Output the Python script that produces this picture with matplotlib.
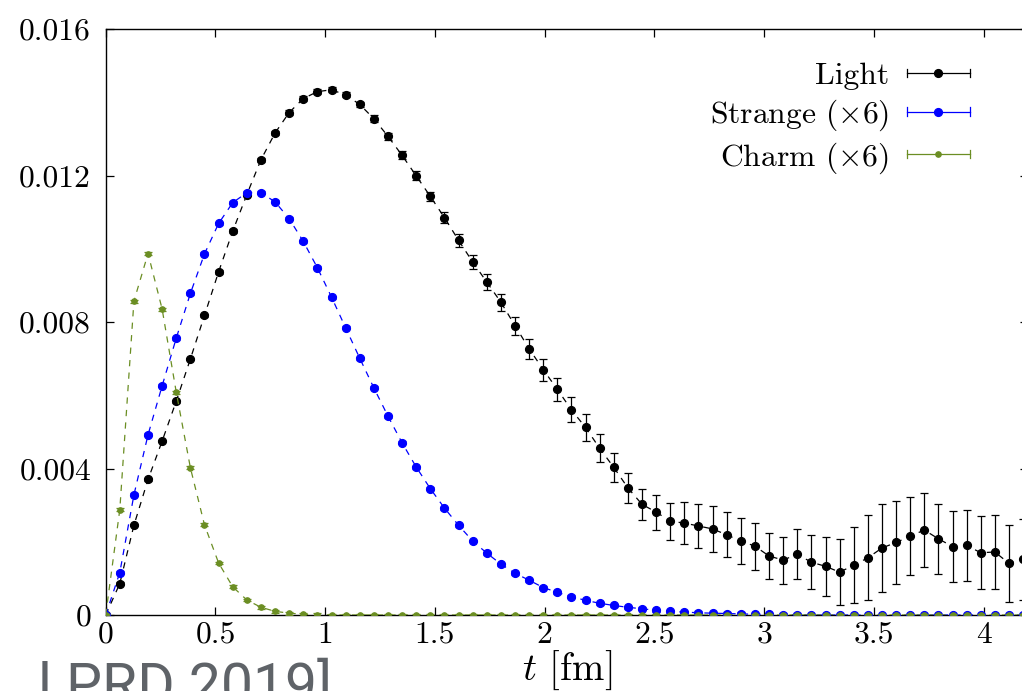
import numpy as np
import matplotlib
matplotlib.use('Agg')
import matplotlib.pyplot as plt
from matplotlib.lines import Line2D
from matplotlib.legend_handler import HandlerBase

plt.rcParams['font.family'] = ['cmr10']
plt.rcParams['mathtext.fontset'] = 'cm'
plt.rcParams['axes.unicode_minus'] = False
plt.rcParams['axes.formatter.use_mathtext'] = True

# ---------------- data ----------------
a_fm = 0.0643  # lattice spacing in fm (time step between points)

light = [0.0, 0.00086, 0.00245, 0.00370, 0.00475, 0.00584, 0.00699, 0.00818, 0.00937, 0.01048,
         0.01148, 0.01243, 0.01316, 0.01372, 0.01410, 0.01429, 0.01434, 0.01420, 0.01394, 0.01355,
         0.01307, 0.01255, 0.01199, 0.01143, 0.01085, 0.01023, 0.00964, 0.00909, 0.00854, 0.00790,
         0.00727, 0.00670, 0.00616, 0.00560, 0.00512, 0.00455, 0.00403, 0.00347, 0.00302, 0.00281,
         0.00256, 0.00251, 0.00243, 0.00235, 0.00219, 0.00202, 0.00188, 0.00161, 0.00150, 0.00166,
         0.00144, 0.00133, 0.00117, 0.00136, 0.00156, 0.00183, 0.00198, 0.00215, 0.00232, 0.00208,
         0.00187, 0.00190, 0.00170, 0.00172, 0.00141, 0.00152]
light_err = [0.00002, 0.00003, 0.00003, 0.00003, 0.00004, 0.00004, 0.00004, 0.00004, 0.00005, 0.00005,
             0.00005, 0.00005, 0.00006, 0.00006, 0.00006, 0.00007, 0.00007, 0.00007, 0.00008, 0.00009,
             0.00010, 0.00011, 0.00012, 0.00013, 0.00015, 0.00017, 0.00018, 0.00021, 0.00023, 0.00025,
             0.00027, 0.00030, 0.00032, 0.00034, 0.00036, 0.00038, 0.00040, 0.00041, 0.00043, 0.00048,
             0.00051, 0.00057, 0.00060, 0.00063, 0.00062, 0.00063, 0.00064, 0.00062, 0.00064, 0.00069,
             0.00074, 0.00080, 0.00091, 0.00104, 0.00116, 0.00119, 0.00113, 0.00107, 0.00101, 0.00096,
             0.00098, 0.00098, 0.00099, 0.00102, 0.00106, 0.00111]

strange_x6 = [0.0, 0.00116, 0.00328, 0.00492, 0.00626, 0.00756, 0.00878, 0.00986, 0.01069, 0.01126,
              0.01153, 0.01153, 0.01128, 0.01082, 0.01020, 0.00948, 0.00868, 0.00784, 0.00701, 0.00620,
              0.00543, 0.00470, 0.00404, 0.00345, 0.00292, 0.00245, 0.00202, 0.00169, 0.00139, 0.00114,
              0.00095, 0.00075, 0.00062, 0.00050, 0.00040, 0.00032, 0.00026, 0.00021, 0.00017, 0.00013,
              0.00010, 0.00008, 0.00006, 0.00005, 0.00004, 0.00003, 0.00002, 0.00002, 0.00001, 0.00001,
              0.0, 0.0, 0.0, 0.0, 0.0, 0.0, 0.0, 0.0, 0.0, 0.0,
              0.0, 0.0, 0.0, 0.0, 0.0, 0.0]
strange_err = 0.00004

charm_x6 = [0.0, 0.00288, 0.00857, 0.00987, 0.00835, 0.00608, 0.00402, 0.00246, 0.00142, 0.00077,
            0.00041, 0.00021, 0.00010, 0.00005, 0.00002, 0.00001, 0.0, 0.0, 0.0, 0.0,
            0.0, 0.0, 0.0, 0.0, 0.0, 0.0, 0.0, 0.0, 0.0, 0.0,
            0.0, 0.0, 0.0, 0.0, 0.0, 0.0, 0.0, 0.0, 0.0, 0.0,
            0.0, 0.0, 0.0, 0.0, 0.0, 0.0, 0.0, 0.0, 0.0, 0.0,
            0.0, 0.0, 0.0, 0.0, 0.0, 0.0, 0.0, 0.0, 0.0, 0.0,
            0.0, 0.0, 0.0, 0.0, 0.0, 0.0]
charm_err = 0.00004

series_labels = ['Light', r'Strange ($\times6$)', r'Charm ($\times6$)']
series_colors = ['#000000', '#0000ff', '#6b8e23']

xticks = [0, 0.5, 1, 1.5, 2, 2.5, 3, 3.5, 4]
xticklabels = ['0', '0.5', '1', '1.5', '2', '2.5', '3', '3.5', '4']
yticks = [0, 0.004, 0.008, 0.012, 0.016]
yticklabels = ['0', '0.004', '0.008', '0.012', '0.016']

# ---------------- figure ----------------
W, H = 1022, 691
fig = plt.figure(figsize=(W / 100, H / 100), dpi=100)
L, R, T, B = 105.7, 1027.6, 29, 615
ax = fig.add_axes([L / W, 1 - B / H, (R - L) / W, (B - T) / H])

t = np.arange(len(light)) * a_fm

data = [(light, light_err, 5.6), (strange_x6, strange_err, 5.6), (charm_x6, charm_err, 3.8)]
for i, ((vals, err, ms), col) in enumerate(zip(data, series_colors)):
    z = 3 + i
    ax.plot(t, vals, ls=(0, (5, 5)), lw=0.9, color=col, zorder=z)
    ax.errorbar(t, vals, yerr=err, fmt='o', ms=ms, color=col, ecolor=col,
                elinewidth=0.9, capsize=3, capthick=0.9, zorder=z, clip_on=True)

ax.set_xlim(0, 4.2)
ax.set_ylim(0, 0.016)
ax.set_xticks(xticks)
ax.set_xticklabels(xticklabels)
ax.set_yticks(yticks)
ax.set_yticklabels(yticklabels)
ax.tick_params(direction='in', length=5.8, width=0.9, top=True, right=True,
               labelsize=22.7, colors='#000000')
ax.tick_params(axis='x', pad=4.5)
ax.tick_params(axis='y', pad=10.5)
for sp in ax.spines.values():
    sp.set_linewidth(1.0)
ax.set_xlabel(r'$t$ [fm]', fontsize=28, labelpad=0)


class GPHandler(HandlerBase):
    def create_artists(self, legend, orig_handle, xdescent, ydescent, width, height,
                       fontsize, trans):
        c = orig_handle.get_color()
        ms = orig_handle.get_markersize()
        y = height / 2 - ydescent
        x0 = -xdescent
        x1 = width - xdescent
        cap = 3.0
        arts = [
            Line2D([x0, x1], [y, y], color=c, lw=0.9),
            Line2D([x0, x0], [y - cap, y + cap], color=c, lw=0.9),
            Line2D([x1, x1], [y - cap, y + cap], color=c, lw=0.9),
            Line2D([(x0 + x1) / 2], [y], marker='o', ms=ms, color=c, ls='none'),
        ]
        for art in arts:
            art.set_transform(trans)
        return arts


proxies = [Line2D([], [], color=c, marker='o', ms=d[2]) for c, d in zip(series_colors, data)]
ax.legend(handles=proxies, labels=series_labels, handler_map={Line2D: GPHandler()},
          loc='upper right', bbox_to_anchor=(970 / W, 1 - 62 / H), bbox_transform=fig.transFigure,
          frameon=False, markerfirst=False, handlelength=2.0, handletextpad=0.57,
          labelspacing=0.23, borderpad=0, borderaxespad=0, fontsize=22.7)

fig.text(38 / W, 1 - 703.5 / H, 'l PRD 2019]', family='Roboto', fontsize=41,
         color='#5f6368', ha='left', va='baseline')

fig.savefig('out.png', dpi=100)
